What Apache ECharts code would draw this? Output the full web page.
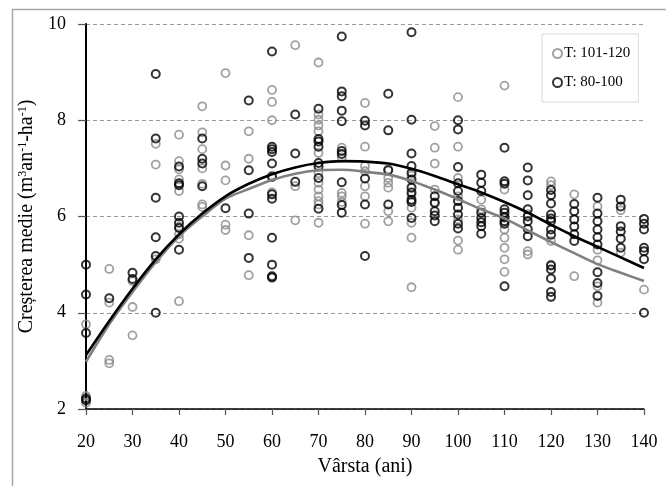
<!DOCTYPE html>
<html>
<head>
<meta charset="utf-8">
<script src="https://cdn.jsdelivr.net/npm/echarts@6/dist/echarts.min.js"></script>
<style>
html,body{margin:0;padding:0;background:#fff;}
#c{width:666px;height:486px;}
</style>
</head>
<body>
<div id="c"></div>
<script>
// ---- data ----
var ages = [20,25,30,35,40,45,50,55,60,65,70,75,80,85,90,95,100,105,110,115,120,125,130,135,140];

var grayVals = [
  [3.76, 2.27, 2.13],
  [4.91, 4.21, 3.02, 2.95],
  [4.66, 4.12, 3.53],
  [7.51, 7.08, 5.11],
  [7.70, 7.15, 6.98, 6.77, 6.53, 5.79, 5.63, 5.54, 4.24],
  [8.29, 7.75, 7.40, 7.00, 6.68, 6.25, 6.20],
  [8.98, 7.06, 6.75, 5.83, 5.72],
  [7.77, 7.20, 5.61, 4.78],
  [8.63, 8.38, 8.00, 6.85, 6.50],
  [9.56, 6.63, 5.92],
  [9.20, 8.12, 8.01, 7.89, 7.77, 7.32, 6.90, 6.70, 6.56, 6.42, 6.32, 6.25, 5.87],
  [7.43, 7.22, 6.49, 6.42, 6.30],
  [8.36, 7.45, 7.05, 6.94, 6.63, 6.42, 5.85],
  [6.98, 6.80, 6.70, 6.60, 6.11, 5.90],
  [6.85, 6.45, 6.18, 5.87, 5.56, 4.53],
  [7.88, 7.43, 7.10, 6.56, 6.30],
  [8.48, 7.45, 6.80, 6.42, 5.94, 5.50, 5.31],
  [6.35, 6.15],
  [8.72, 6.56, 6.00, 5.73, 5.56, 5.35, 5.11, 4.85],
  [6.05, 5.28, 5.21],
  [6.73, 6.65, 5.49, 5.00],
  [6.46, 4.76],
  [6.21, 5.31, 5.09, 4.55, 4.21],
  [6.13, 5.25],
  [4.48]
];

var blackVals = [
  [5.00, 4.38, 3.58, 2.22, 2.18],
  [4.30],
  [4.83, 4.70],
  [8.96, 7.62, 6.39, 5.57, 5.18, 4.00],
  [7.04, 6.69, 6.65, 6.00, 5.87, 5.76, 5.31],
  [7.62, 7.20, 7.10, 6.63],
  [6.17],
  [8.41, 6.96, 6.06, 5.14],
  [9.43, 7.45, 7.40, 7.34, 7.10, 6.82, 6.46, 6.37, 5.56, 5.00, 4.76, 4.73],
  [8.12, 7.31, 6.72],
  [8.24, 7.61, 7.56, 7.45, 7.11, 7.04, 6.80, 6.16],
  [9.74, 8.60, 8.50, 8.20, 7.98, 7.36, 7.30, 6.71, 6.24, 6.08],
  [7.99, 7.89, 6.79, 6.25, 5.18],
  [8.55, 7.79, 6.96, 6.25],
  [9.83, 8.01, 7.31, 7.05, 6.91, 6.77, 6.60, 6.50, 6.35, 6.30, 5.97],
  [6.42, 6.28, 6.11, 6.02, 5.90],
  [8.00, 7.81, 7.03, 6.69, 6.53, 6.32, 6.18, 6.04, 5.85, 5.75],
  [6.87, 6.70, 6.53, 6.08, 5.97, 5.88, 5.80, 5.64],
  [7.43, 6.73, 6.68, 6.15, 6.08, 5.98, 5.90, 5.85, 4.55],
  [7.02, 6.75, 6.44, 6.15, 6.00, 5.90, 5.74, 5.59],
  [6.55, 6.44, 6.27, 6.04, 5.96, 5.90, 5.73, 5.62, 4.98, 4.90, 4.71, 4.43, 4.33],
  [6.26, 6.11, 5.94, 5.79, 5.63, 5.49],
  [6.39, 6.06, 5.90, 5.73, 5.57, 5.42, 4.84, 4.62, 4.35],
  [6.35, 6.21, 5.80, 5.69, 5.54, 5.35],
  [5.95, 5.85, 5.73, 5.35, 5.28, 5.11, 4.00]
];

var fitAges = [20,25,30,35,40,45,50,55,60,65,70,75,80,85,90,95,100,105,110,115,120,125,130,135,140];
var blackFit = [3.12, 3.83, 4.50, 5.11, 5.63, 6.06, 6.42, 6.68, 6.88, 7.02, 7.11, 7.15, 7.14, 7.10, 6.99, 6.84, 6.67, 6.50, 6.30, 6.08, 5.83, 5.59, 5.37, 5.15, 4.93];
var grayFit  = [2.98, 3.76, 4.43, 5.05, 5.59, 6.00, 6.37, 6.57, 6.76, 6.89, 6.96, 6.97, 6.93, 6.87, 6.74, 6.56, 6.36, 6.15, 5.96, 5.71, 5.47, 5.24, 5.01, 4.83, 4.66];

var seriesNames = ['T: 101-120', 'T: 80-100'];
var xTicks = {min: 20, max: 140, step: 10};
var yTicks = {min: 2, max: 10, step: 2};

// ---- build ----
function pairs(xs, lists) {
  var out = [];
  for (var i = 0; i < xs.length; i++) {
    for (var j = 0; j < lists[i].length; j++) out.push([xs[i], lists[i][j]]);
  }
  return out;
}
function zip(xs, ys) { return xs.map(function (x, i) { return [x, ys[i]]; }); }

var FONT = '"Liberation Serif", "DejaVu Serif", serif';
var GRAY = '#8a8a8a';

var chart = echarts.init(document.getElementById('c'), null, {renderer: 'canvas'});
chart.setOption({
  animation: false,
  backgroundColor: '#fff',
  textStyle: {fontFamily: FONT, color: '#000'},
  graphic: [{
    type: 'rect', silent: true, z: -10,
    shape: {x: 12.5, y: 9.5, width: 700, height: 500},
    style: {fill: 'none', stroke: '#a6a6a6', lineWidth: 1.5}
  }],
  grid: {left: 86, right: 22, top: 24, bottom: 77},
  legend: {
    left: 542, top: 34, orient: 'vertical',
    width: 97, height: 65,
    padding: [12, 8, 12, 10], itemGap: 14,
    itemWidth: 9, itemHeight: 9,
    borderColor: '#d9d9d9', borderWidth: 1, backgroundColor: '#fff',
    textStyle: {fontFamily: FONT, fontSize: 15, color: '#000', padding: [0, 0, 0, -3]},
    data: seriesNames
  },
  xAxis: {
    type: 'value', min: xTicks.min, max: xTicks.max, interval: xTicks.step,
    name: 'Vârsta (ani)', nameLocation: 'middle', nameGap: 48,
    nameTextStyle: {fontFamily: FONT, fontSize: 20, color: '#000'},
    axisLine: {lineStyle: {color: '#000', width: 1.5}},
    axisTick: {show: true, length: 6, lineStyle: {color: '#555', width: 1.2}},
    axisLabel: {fontFamily: FONT, fontSize: 18, color: '#000', margin: 24},
    splitLine: {show: false}
  },
  yAxis: {
    type: 'value', min: yTicks.min, max: yTicks.max, interval: yTicks.step,
    name: 'Creșterea medie (m{s|3}an{s|-1}-ha{s|-1})', nameLocation: 'middle', nameGap: 48,
    nameTextStyle: {
      fontFamily: FONT, fontSize: 20, color: '#000',
      rich: {s: {fontFamily: FONT, fontSize: 12, verticalAlign: 'top', lineHeight: 12}}
    },
    axisLine: {show: true, lineStyle: {color: '#000', width: 2}},
    axisTick: {show: true, length: 8, lineStyle: {color: '#555', width: 1.2}},
    axisLabel: {fontFamily: FONT, fontSize: 18, color: '#000', margin: 20},
    splitLine: {show: true, lineStyle: {color: '#999', type: [4, 3], width: 1}}
  },
  series: [
    {
      name: seriesNames[0], type: 'scatter', z: 2,
      symbol: 'circle', symbolSize: 8,
      itemStyle: {color: 'rgba(255,255,255,0)', borderColor: GRAY, borderWidth: 1.8},
      data: pairs(ages, grayVals)
    },
    {
      name: seriesNames[1], type: 'scatter', z: 3,
      symbol: 'circle', symbolSize: 8,
      itemStyle: {color: 'rgba(255,255,255,0)', borderColor: '#000', borderWidth: 2},
      data: pairs(ages, blackVals)
    },
    {
      name: 'fit gray', type: 'line', z: 4, smooth: 0.3, showSymbol: false, silent: true,
      lineStyle: {color: '#808080', width: 2.6},
      data: zip(fitAges, grayFit)
    },
    {
      name: 'fit black', type: 'line', z: 5, smooth: 0.3, showSymbol: false, silent: true,
      lineStyle: {color: '#000', width: 2.6},
      data: zip(fitAges, blackFit)
    }
  ]
});
</script>
</body>
</html>
